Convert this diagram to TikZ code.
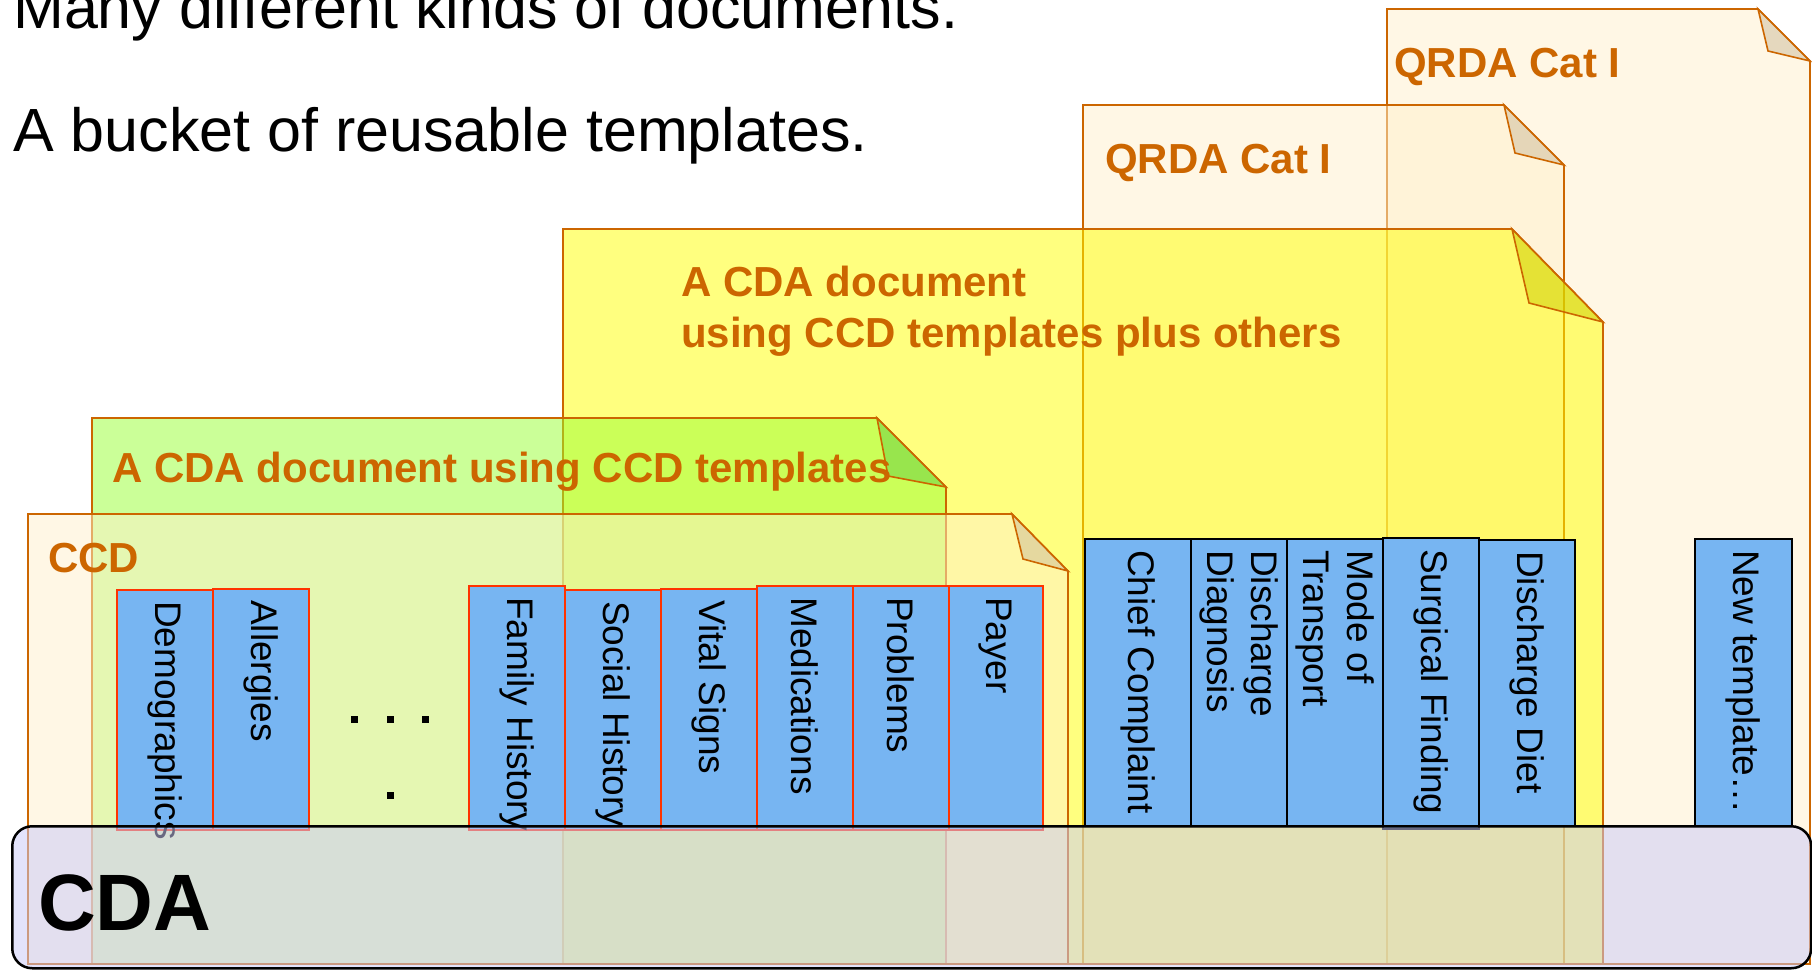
\documentclass[tikz,border=0pt]{standalone}
\usepackage{fontspec}
\setmainfont{Liberation Sans}
\definecolor{docorange}{HTML}{CC6600}
\definecolor{cream}{HTML}{FFF1CD}
\definecolor{creamfold}{HTML}{CCBB99}
\definecolor{docyellow}{HTML}{FFFF00}
\definecolor{yellowfold}{HTML}{CCCC00}
\definecolor{docgreen}{HTML}{99FF33}
\definecolor{greenfold}{HTML}{66CC44}
\definecolor{tplblue}{HTML}{77B5F2}
\definecolor{tplred}{HTML}{FF3300}
\definecolor{cdalav}{HTML}{CBCAF9}
\newcommand\tplitem[7]{%
  \node[#1, minimum width=#6pt, minimum height=#5pt] (#2) at (#3,#4) {};
  \node[tpltext] (#2-t) at ([yshift=-12pt]#2.north) {#7};
}
\begin{document}
\begin{tikzpicture}[x=1pt,y=-1pt,
  paper/.style={draw=docorange, line width=1.6pt, line join=miter, fill opacity=0.5},
  titletext/.style={font=\fontsize{61}{73}\selectfont, inner sep=0, anchor=base west},
  doclabel/.style={text=docorange, font=\bfseries\fontsize{42}{51}\selectfont, inner sep=0, anchor=base west, align=left},
  ccdtpl/.style={draw=tplred, fill=tplblue, line width=1.5pt, inner sep=0, anchor=north west},
  newtpl/.style={draw=black, fill=tplblue, line width=1.5pt, inner sep=0, anchor=north west},
  tpltext/.style={rotate=-90, anchor=west, inner sep=0, font=\fontsize{37}{44}\selectfont, align=left},
  dotsq/.style={rectangle, fill=black, minimum size=7pt, inner sep=0},
  cdabox/.style={draw=black, line width=2.5pt, fill=cdalav, fill opacity=0.52, rounded corners=20pt, inner sep=0, anchor=north west}
]
\useasboundingbox (0,0) rectangle (1812,969);
\clip (0,0) rectangle (1812,969);
\fill[white] (0,0) rectangle (1812,969);

% titles
\node[titletext] (t1) at (13,28) {Many different kinds of documents.};
\node[titletext] (t2) at (13,151) {A bucket of reusable templates.};

% QRDA big
\path[paper, fill=cream] (1387,9) -- (1758,9) -- (1810,61) -- (1810,964) -- (1387,964) -- cycle;
\path[paper, fill=creamfold] (1758,9) -- (1768,51) -- (1810,61) -- cycle;
\node[doclabel] (qrda2) at (1394,77) {QRDA Cat I};

% QRDA middle
\path[paper, fill=cream] (1083,105) -- (1504,105) -- (1564,165) -- (1564,964) -- (1083,964) -- cycle;
\path[paper, fill=creamfold] (1504,105) -- (1515,153) -- (1564,165) -- cycle;
\node[doclabel] (qrda1) at (1105,173) {QRDA Cat I};

% yellow document
\path[paper, fill=docyellow] (563,229) -- (1512,229) -- (1603,322) -- (1603,964) -- (563,964) -- cycle;
\path[paper, fill=yellowfold] (1512,229) -- (1529,303) -- (1603,322) -- cycle;
\node[doclabel] (ylab1) at (681,296) {A CDA document};
\node[doclabel] (ylab2) at (681,347) {using CCD templates plus others};

% green document
\path[paper, fill=docgreen] (92,418) -- (877,418) -- (946,487) -- (946,964) -- (92,964) -- cycle;
\path[paper, fill=greenfold] (877,418) -- (888,476) -- (946,487) -- cycle;
\node[doclabel] (glab) at (112,482) {A CDA document using CCD templates};

% CCD document
\path[paper, fill=cream] (28,514) -- (1012,514) -- (1068,571) -- (1068,964) -- (28,964) -- cycle;
\path[paper, fill=creamfold] (1012,514) -- (1023,559) -- (1068,571) -- cycle;
\node[doclabel] (ccdlab) at (48,572) {CCD};

% CCD templates
\tplitem{ccdtpl}{demo}{116}{589}{240}{96}{Demographics}
\tplitem{ccdtpl}{aller}{212}{588}{241}{96}{Allergies}
\tplitem{ccdtpl}{famhist}{468}{585}{244}{96}{Family History}
\tplitem{ccdtpl}{sochist}{564}{589}{240}{96}{Social History}
\tplitem{ccdtpl}{vital}{660}{588}{241}{96}{Vital Signs}
\tplitem{ccdtpl}{meds}{756}{585}{244}{96}{Medications}
\tplitem{ccdtpl}{probs}{852}{585}{244}{96}{Problems}
\tplitem{ccdtpl}{payer}{948}{585}{244}{94}{Payer}

% dots
\node[dotsq] (dot1) at (354,719) {};
\node[dotsq] (dot2) at (390,719) {};
\node[dotsq] (dot3) at (425,719) {};
\node[dotsq] (dot4) at (390,795) {};

% other templates
\tplitem{newtpl}{chief}{1084}{538}{287}{106}{Chief Complaint}
\tplitem{newtpl}{discdx}{1190}{538}{287}{96}{Discharge\\Diagnosis}
\tplitem{newtpl}{mode}{1286}{538}{287}{96}{Mode of\\Transport}
\tplitem{newtpl}{surg}{1382}{537}{291}{96}{Surgical Finding}
\tplitem{newtpl}{diet}{1478}{539}{286}{96}{Discharge Diet}
\tplitem{newtpl}{newt}{1694}{538}{287}{97}{New template…}

% CDA base
\node[cdabox, minimum width=1799pt, minimum height=142pt] (cda) at (11,825) {};
\node[font=\bfseries\fontsize{80}{96}\selectfont, inner sep=0, anchor=base west] (cdalabel) at (38,930) {CDA};
\end{tikzpicture}
\end{document}
